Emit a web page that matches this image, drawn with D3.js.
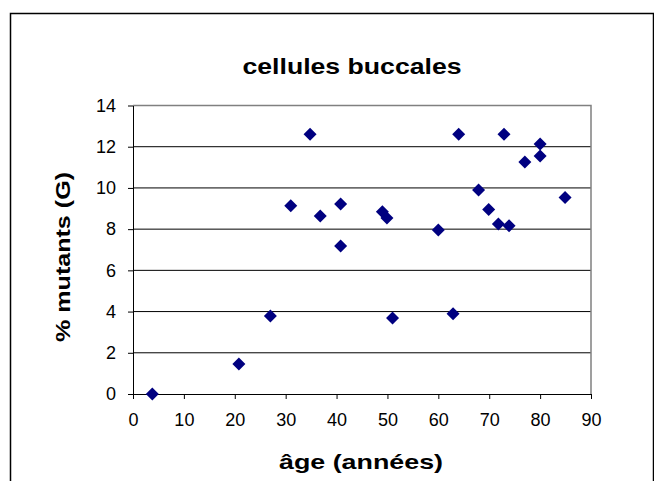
<!DOCTYPE html>
<html>
<head>
<meta charset="utf-8">
<script src="https://cdn.jsdelivr.net/npm/d3@7"></script>
<style>
  body { margin: 0; background: #fff; }
  svg text { font-family: "Liberation Sans", Arial, sans-serif; }
</style>
</head>
<body>
<div id="chart"></div>
<script>
// Données
const ages = [3.8, 20.8, 27, 31, 34.8, 36.8, 40.8, 40.8, 49, 49.9, 51, 60, 62.9, 64, 67.9, 69.9, 71.8, 73.9, 72.9, 77, 80, 80, 84.9];
const mutants = [0, 1.45, 3.79, 9.13, 12.6, 8.64, 9.22, 7.18, 8.85, 8.54, 3.69, 7.96, 3.9, 12.6, 9.9, 8.95, 8.25, 8.16, 12.6, 11.26, 12.13, 11.55, 9.53];
const xTicks = [0, 10, 20, 30, 40, 50, 60, 70, 80, 90];
const yTicks = [0, 2, 4, 6, 8, 10, 12, 14];
const title = "cellules buccales";
const xLabel = "âge (années)";
const yLabel = "% mutants (G)";

const width = 654, height = 481;
const margin = { top: 105.5, right: 63, bottom: 87, left: 133 };

const svg = d3.select("#chart").append("svg")
    .attr("width", width)
    .attr("height", height);

// cadre extérieur
svg.append("rect")
    .attr("x", 10.5).attr("y", 13.5)
    .attr("width", 643).attr("height", 480)
    .attr("fill", "none")
    .attr("stroke", "#000")
    .attr("stroke-width", 1.5);

const x = d3.scaleLinear().domain([0, 90]).range([margin.left, width - margin.right]);
const y = d3.scaleLinear().domain([0, 14]).range([height - margin.bottom, margin.top]);

// quadrillage
svg.append("g")
    .selectAll("line")
    .data(yTicks.filter(d => d > 0 && d < 14))
    .join("line")
    .attr("x1", x(0)).attr("x2", x(90))
    .attr("y1", d => y(d)).attr("y2", d => y(d))
    .attr("stroke", "#000")
    .attr("stroke-width", 1);

// bord de la zone de tracé (haut et droite en gris)
svg.append("path")
    .attr("d", `M${x(0)},${y(14)}H${x(90)}V${y(0)}`)
    .attr("fill", "none")
    .attr("stroke", "#808080")
    .attr("stroke-width", 1.5);

// axe X
svg.append("g")
    .attr("transform", `translate(0,${y(0)})`)
    .call(d3.axisBottom(x).tickValues(xTicks).tickSize(5).tickSizeOuter(0).tickPadding(14))
    .call(g => g.selectAll("text").attr("font-size", 18).attr("fill", "#000")
        .attr("font-family", "Liberation Sans, Arial, sans-serif"));

// axe Y
svg.append("g")
    .attr("transform", `translate(${x(0)},0)`)
    .call(d3.axisLeft(y).tickValues(yTicks).tickSize(5).tickSizeOuter(0).tickPadding(12))
    .call(g => g.selectAll("text").attr("font-size", 18).attr("fill", "#000")
        .attr("font-family", "Liberation Sans, Arial, sans-serif"));

// points en losange
const pts = ages.map((a, i) => ({ age: a, val: mutants[i] }));
svg.append("g")
    .selectAll("path")
    .data(pts)
    .join("path")
    .attr("transform", d => `translate(${x(d.age)},${y(d.val)})`)
    .attr("d", "M0,-6.5L6.5,0L0,6.5L-6.5,0Z")
    .attr("fill", "#000080");

// titre
svg.append("text")
    .attr("x", 352).attr("y", 74)
    .attr("text-anchor", "middle")
    .attr("font-size", 22).attr("font-weight", "bold")
    .attr("textLength", 219).attr("lengthAdjust", "spacingAndGlyphs")
    .text(title);

// titres des axes
svg.append("text")
    .attr("x", 361).attr("y", 469)
    .attr("text-anchor", "middle")
    .attr("font-size", 21).attr("font-weight", "bold")
    .attr("textLength", 164).attr("lengthAdjust", "spacingAndGlyphs")
    .text(xLabel);

svg.append("text")
    .attr("transform", `translate(70,257) rotate(-90)`)
    .attr("text-anchor", "middle")
    .attr("font-size", 21).attr("font-weight", "bold")
    .attr("textLength", 170).attr("lengthAdjust", "spacingAndGlyphs")
    .text(yLabel);
</script>
</body>
</html>
